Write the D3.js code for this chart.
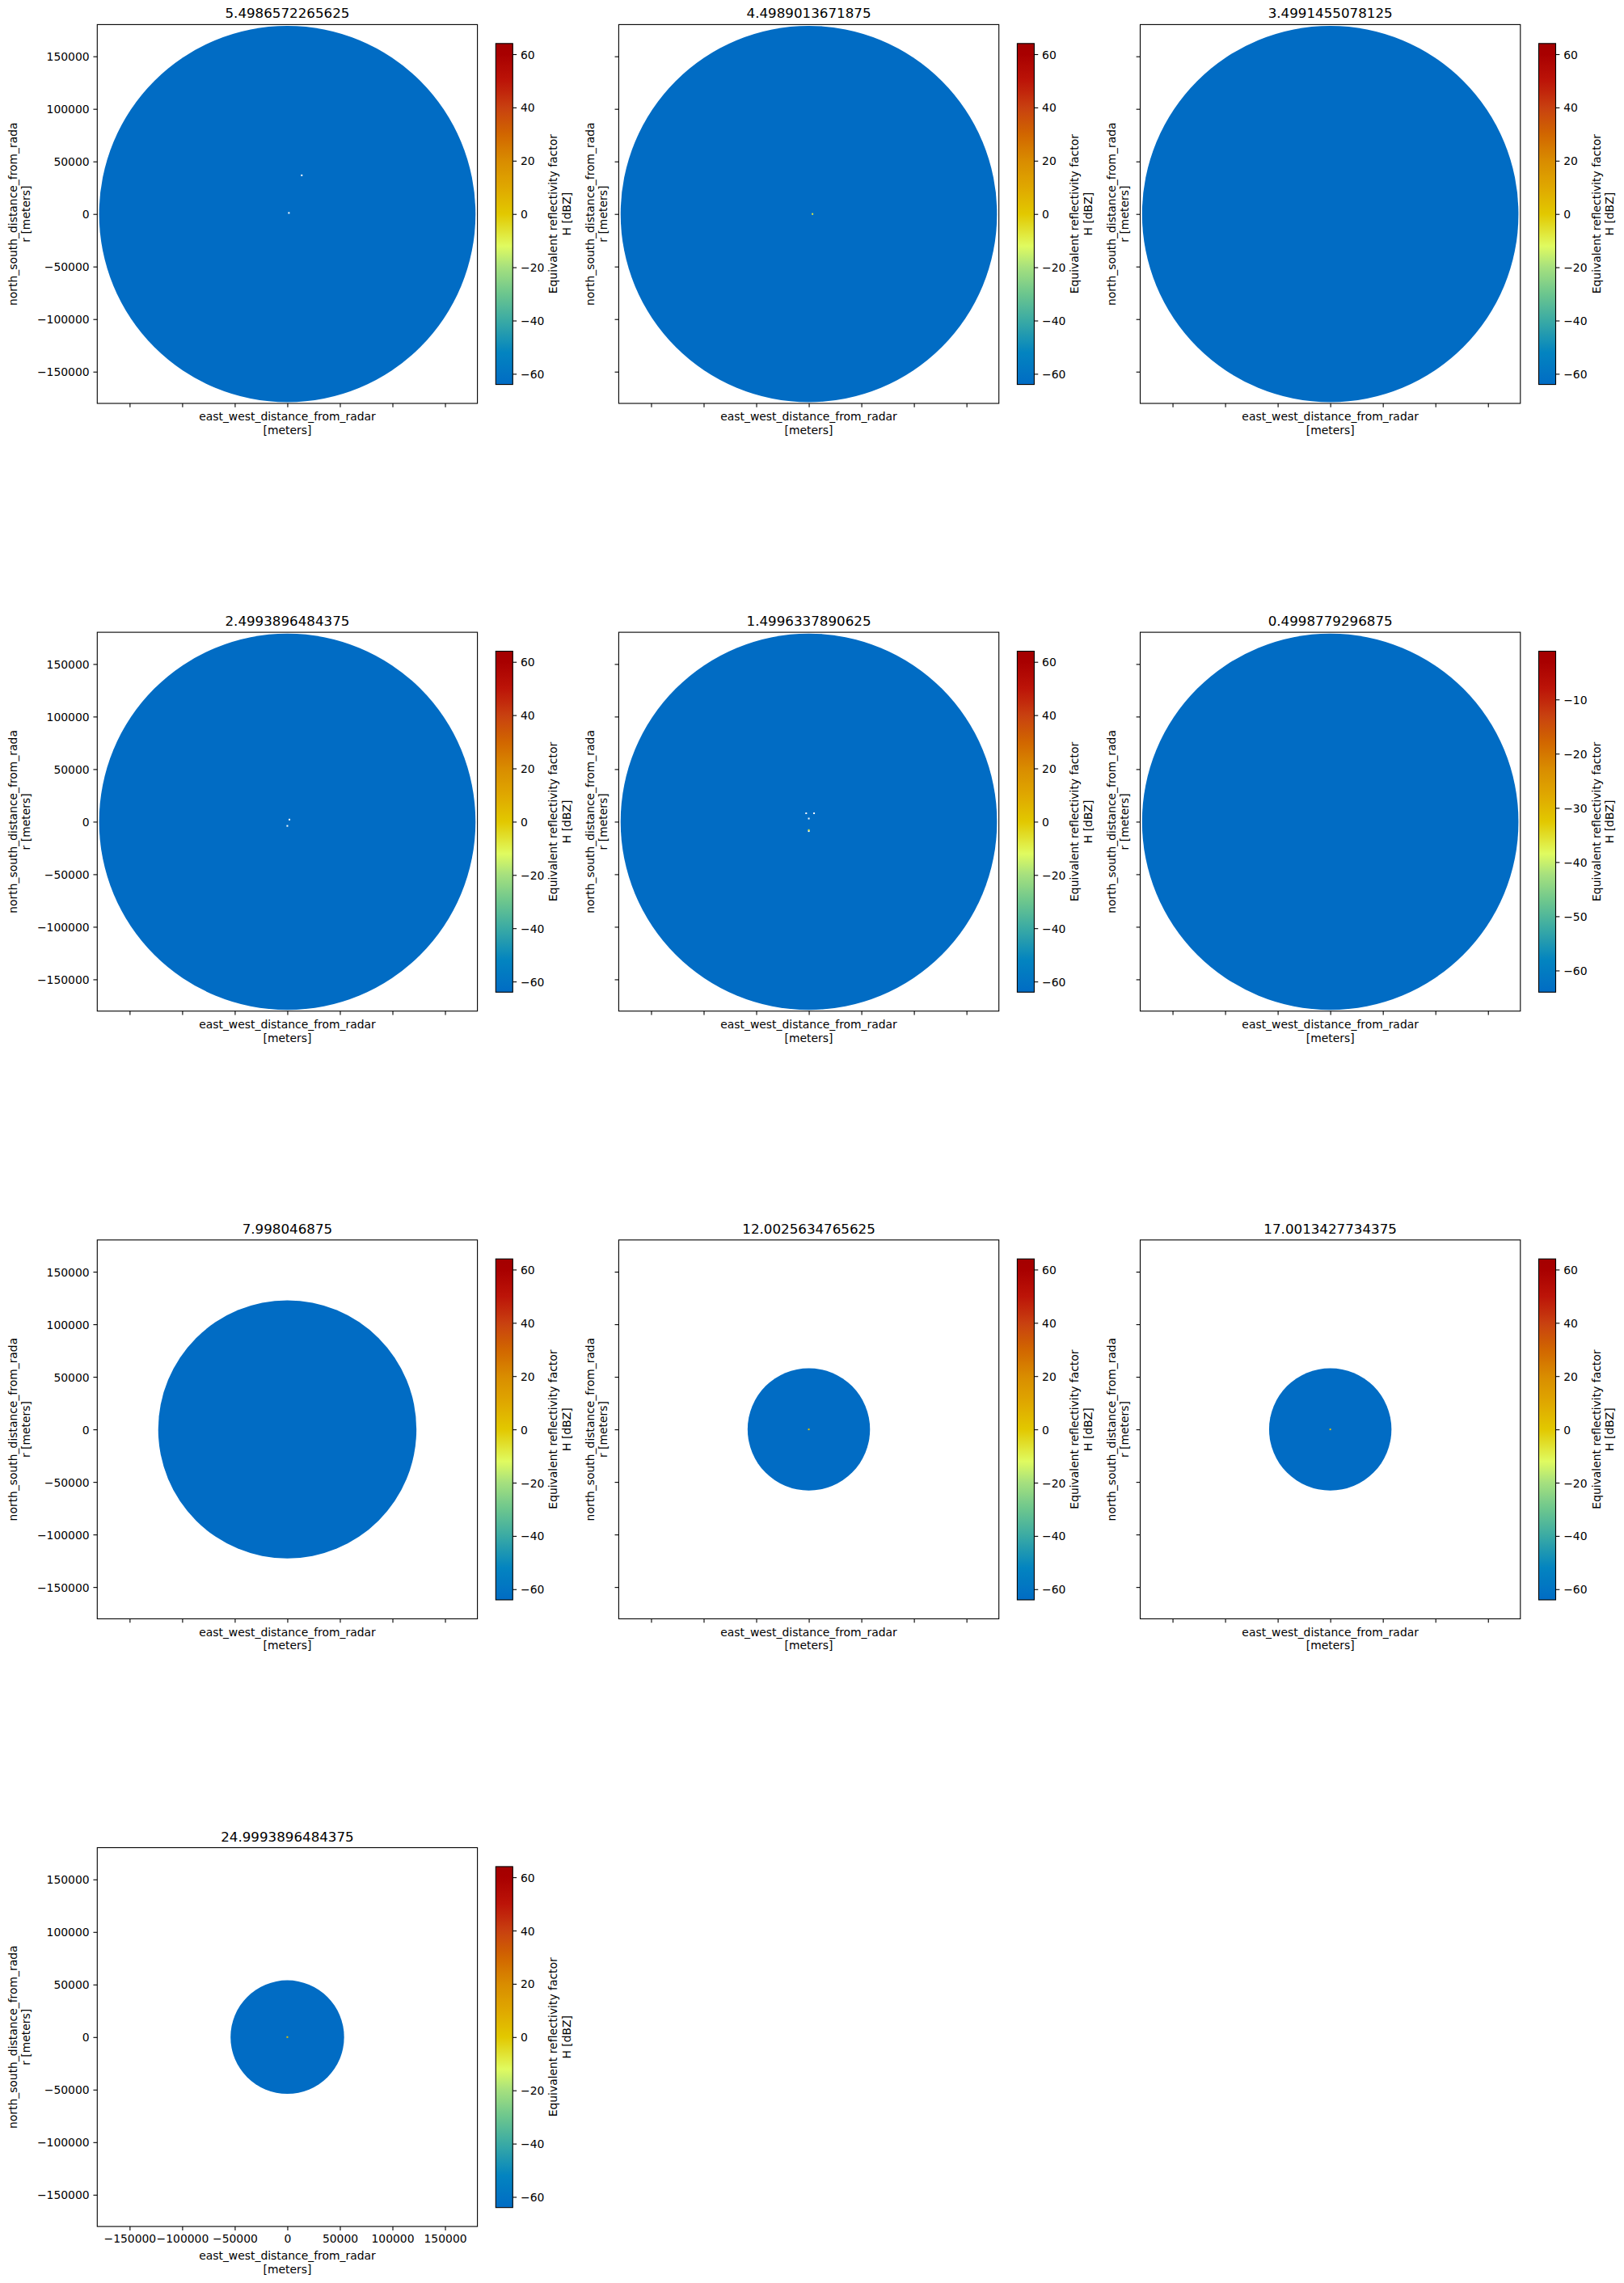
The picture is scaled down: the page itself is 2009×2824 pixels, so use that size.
<!DOCTYPE html>
<html>
<head>
<meta charset="utf-8">
<title>Reflectivity sweeps</title>
<script src="https://cdn.jsdelivr.net/npm/d3@7"></script>
<style>
  body { margin: 0; background: #fff; }
  text { font-family: "DejaVu Sans", sans-serif; fill: #000; }
  .tick line { stroke: #000; stroke-width: 1.1; }
  .tick text { font-size: 13.9px; }
</style>
</head>
<body>
<svg id="fig" width="2009" height="2824"></svg>
<script>
// sweep titles (elevation angles), in plot order
var titles = ["5.4986572265625", "4.4989013671875", "3.4991455078125",
  "2.4993896484375", "1.4996337890625", "0.4998779296875",
  "7.998046875", "12.0025634765625", "17.0013427734375", "24.9993896484375"];
// max ground range of each sweep (m)
var ranges = [179000, 179000, 179000, 179000, 179000, 179000, 122800, 58200, 58200, 54000];
// reflectivity filling each sweep (dBZ)
var fieldValues = [-64, -64, -64, -64, -64, -64, -64, -64, -64, -64];
// colour limits per panel
var vmins = [-64, -64, -64, -64, -64, -64, -64, -64, -64, -64];
var vmaxs = [64, 64, 64, 64, 64, -1.1, 64, 64, 64, 64];
// isolated gates near the radar: [panel, x m, y m, dBZ or null for missing]
var specks = [
  [0, 1500, 1000, null], [0, 13700, 36800, null],
  [1, 3500, 0, -8],
  [3, 0, -4000, null], [3, 2000, 2000, null],
  [4, -2500, 8000, null], [4, 5000, 8000, null], [4, 0, 3000, null], [4, 0, -9000, null], [4, 0, -8000, -8],
  [7, 0, 0, 2], [8, 0, 0, 2], [9, 0, 0, 2]
];
var xLimits = [-180800, 180800];
var yLimits = [-180200, 180200];
var axisTicks = [-150000, -100000, -50000, 0, 50000, 100000, 150000];
var cbarTicks = [-60, -40, -20, 0, 20, 40, 60];
var cbarTicksNarrow = [-60, -50, -40, -30, -20, -10];

// HomeyerRainbow-like colormap (position 0..1 -> colour)
var cmapPos = [0, 0.094, 0.1875, 0.266, 0.344, 0.406, 0.5, 0.578, 0.656, 0.734, 0.8125, 0.89, 0.969, 1];
var cmapCol = ["#016cc4", "#0384c0", "#3aaaa4", "#6cc68e", "#a6e07e", "#e0fb60", "#e2c800",
  "#dfa800", "#d98c00", "#d16600", "#c84010", "#bc1408", "#a80000", "#a30000"];
var cmap = d3.scaleLinear().domain(cmapPos).range(cmapCol).interpolate(d3.interpolateRgb).clamp(true);

var svg = d3.select("#fig");
var defs = svg.append("defs");

var axW = 470.3, axH = 468.6;
var fmt = d3.format("d");

titles.forEach(function(title, i) {
  var col = i % 3, row = Math.floor(i / 3);
  var left = 120.3 + col * 645.1;
  var top = 30.4 + row * 751.7;
  var bottomRow = (i === 9);

  var x = d3.scaleLinear().domain(xLimits).range([left, left + axW]);
  var y = d3.scaleLinear().domain(yLimits).range([top + axH, top]);
  var norm = d3.scaleLinear().domain([vmins[i], vmaxs[i]]).range([0, 1]).clamp(true);

  var g = svg.append("g");

  // the sweep itself
  var r = ranges[i];
  g.append("ellipse")
    .attr("cx", x(0)).attr("cy", y(0))
    .attr("rx", x(r) - x(0)).attr("ry", y(0) - y(r))
    .attr("fill", cmap(norm(fieldValues[i])));

  g.selectAll(".speck")
    .data(specks.filter(function(s) { return s[0] === i; }))
    .enter().append("rect")
    .attr("x", function(s) { return x(s[1]) - 1; })
    .attr("y", function(s) { return y(s[2]) - 1; })
    .attr("width", 2).attr("height", 2)
    .attr("fill", function(s) { return s[3] === null ? "#fff" : cmap(norm(s[3])); });

  // axes
  var xAxis = d3.axisBottom(x).tickValues(axisTicks).tickSize(4.86).tickPadding(4.86)
    .tickFormat(bottomRow ? fmt : "");
  g.append("g").attr("transform", "translate(0," + (top + axH) + ")").call(xAxis)
    .call(function(a) { a.select(".domain").remove(); });

  var yAxis = d3.axisLeft(y).tickValues(axisTicks).tickSize(4.86).tickPadding(4.86)
    .tickFormat(col === 0 ? fmt : "");
  g.append("g").attr("transform", "translate(" + left + ",0)").call(yAxis)
    .call(function(a) {
      a.select(".domain").remove();
      a.selectAll("text").attr("dy", "0.36em");
    });

  g.selectAll(".tick text").attr("font-family", null).attr("font-size", null).attr("fill", "#000");

  g.append("rect")
    .attr("x", left).attr("y", top).attr("width", axW).attr("height", axH)
    .attr("fill", "none").attr("stroke", "#000").attr("stroke-width", 1.1);

  // title
  g.append("text")
    .attr("x", left + axW / 2).attr("y", top - 8)
    .attr("text-anchor", "middle").style("font-size", "16.7px")
    .text(title);

  // x label
  var xl = top + axH + (bottomRow ? 41 : 21.3);
  var xlab = g.append("text").attr("text-anchor", "middle").style("font-size", "13.9px");
  xlab.append("tspan").attr("x", left + axW / 2).attr("y", xl).text("east_west_distance_from_radar");
  xlab.append("tspan").attr("x", left + axW / 2).attr("y", xl + 16.7).text("[meters]");

  // y label
  var yb = col === 0 ? [20.5, 36.5] : [left - 30.5, left - 14.5];
  var cy = top + axH / 2;
  [["north_south_distance_from_rada", yb[0]], ["r [meters]", yb[1]]].forEach(function(l) {
    g.append("text")
      .attr("transform", "translate(" + l[1] + "," + cy + ") rotate(-90)")
      .attr("text-anchor", "middle").style("font-size", "13.9px")
      .text(l[0]);
  });

  // colorbar
  var cbL = left + 493, cbW = 21;
  var cbT = top + 0.05 * axH, cbH = 0.9 * axH;
  var gid = "cb" + i;
  var grad = defs.append("linearGradient").attr("id", gid)
    .attr("x1", 0).attr("y1", 1).attr("x2", 0).attr("y2", 0);
  grad.selectAll("stop").data(d3.range(0, 1.0001, 1 / 64)).enter().append("stop")
    .attr("offset", function(t) { return t; })
    .attr("stop-color", function(t) { return cmap(t); });

  g.append("rect").attr("x", cbL).attr("y", cbT).attr("width", cbW).attr("height", cbH)
    .attr("fill", "url(#" + gid + ")");

  var c = d3.scaleLinear().domain([vmins[i], vmaxs[i]]).range([cbT + cbH, cbT]);
  var cAxis = d3.axisRight(c).tickValues(vmaxs[i] < 0 ? cbarTicksNarrow : cbarTicks)
    .tickSize(4.86).tickPadding(4.86).tickFormat(fmt);
  g.append("g").attr("class", "cbar").attr("transform", "translate(" + (cbL + cbW) + ",0)").call(cAxis)
    .call(function(a) {
      a.select(".domain").remove();
      a.selectAll("text").attr("dy", "0.36em").attr("font-family", null).attr("font-size", null).attr("fill", "#000");
    });

  g.append("rect").attr("x", cbL).attr("y", cbT).attr("width", cbW).attr("height", cbH)
    .attr("fill", "none").attr("stroke", "#000").attr("stroke-width", 1.1);

  var ccy = cbT + cbH / 2;
  [["Equivalent reflectivity factor", cbL + cbW + 55], ["H [dBZ]", cbL + cbW + 71.5]].forEach(function(l) {
    g.append("text")
      .attr("transform", "translate(" + l[1] + "," + ccy + ") rotate(-90)")
      .attr("text-anchor", "middle").style("font-size", "13.9px")
      .text(l[0]);
  });
});
</script>
</body>
</html>
